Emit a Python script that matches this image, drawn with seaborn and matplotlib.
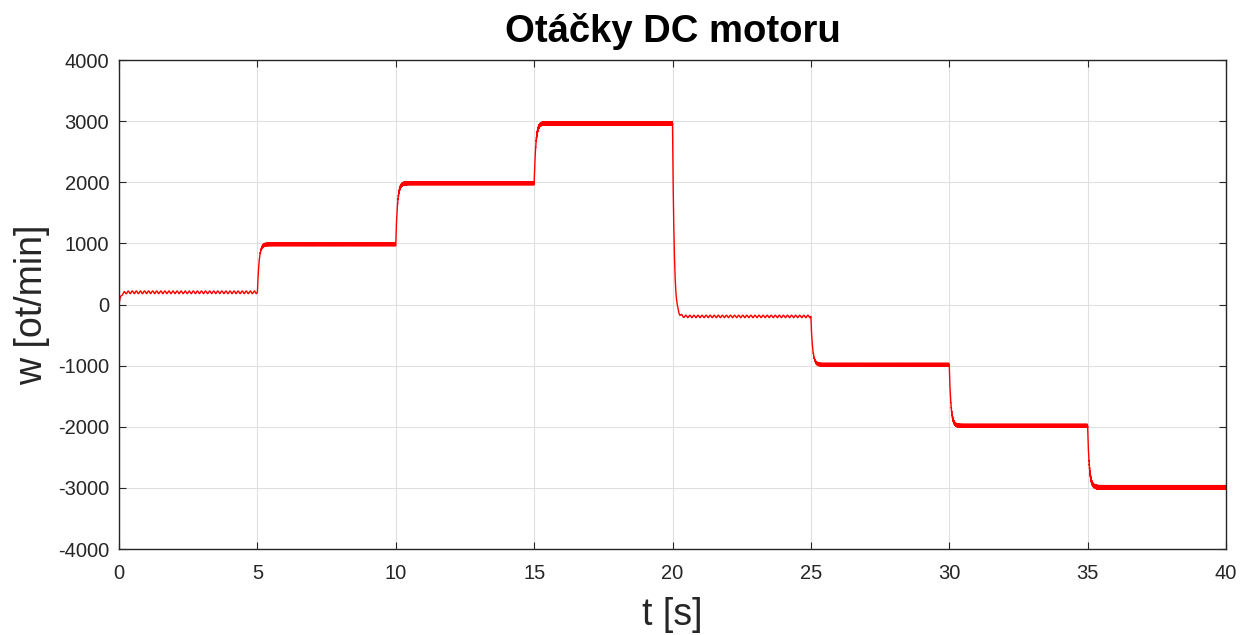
import numpy as np
import pandas as pd
import matplotlib
matplotlib.use("Agg")
import matplotlib.pyplot as plt
import seaborn as sns

# Step setpoints (start time [s]) and steady levels [ot/min]
step_times = [0, 5, 10, 15, 20, 25, 30, 35]
step_levels = [200, 985, 1985, 2965, -195, -985, -1985, -2990]
ripple_amp = [22, 25, 25, 25, 20, 25, 25, 28]
ripple_freq = [6.8, 34, 68, 100, 6.8, 34, 68, 100]
tau = 0.06
t_end = 40.0

x_ticks = [0, 5, 10, 15, 20, 25, 30, 35, 40]
y_ticks = [-4000, -3000, -2000, -1000, 0, 1000, 2000, 3000, 4000]

# build simulated response trace from the step table
fs = 2500
t = np.arange(0, t_end, 1.0 / fs)
w = np.zeros_like(t)
prev = 0.0
for i, (ts, lv) in enumerate(zip(step_times, step_levels)):
    te = step_times[i + 1] if i + 1 < len(step_times) else t_end
    m = (t >= ts) & (t < te)
    dt = t[m] - ts
    base = lv + (prev - lv) * np.exp(-dt / tau)
    settle = 1 - np.exp(-dt / tau)
    w[m] = base + settle * ripple_amp[i] * np.sin(2 * np.pi * ripple_freq[i] * dt)
    prev = w[m][-1]

df = pd.DataFrame({"t": t, "w": w})

sns.set_theme(style="white")
plt.rcParams["font.family"] = ["Liberation Sans", "DejaVu Sans"]

fig = plt.figure(figsize=(12.4, 6.35), dpi=100)
ax = fig.add_axes([0.096, 0.1354, 0.8927, 0.7701])
sns.lineplot(data=df, x="t", y="w", ax=ax, color="#ff0000", linewidth=1.0,
             estimator=None, sort=False)

ax.set_xlim(0, 40)
ax.set_ylim(-4000, 4000)
ax.set_xticks(x_ticks)
ax.set_yticks(y_ticks)
ax.set_xticklabels([str(v) for v in x_ticks])
ax.set_yticklabels([str(v) for v in y_ticks])
ax.grid(True, color="#e0e0e0", linewidth=0.8)
ax.set_axisbelow(True)
for s in ax.spines.values():
    s.set_visible(True)
    s.set_color("#262626")
    s.set_linewidth(1.0)
ax.tick_params(direction="in", length=5, width=0.8, color="#262626",
               labelsize=14.5, labelcolor="#262626",
               top=True, right=True, bottom=True, left=True)
ax.tick_params(axis="y", pad=7)
ax.tick_params(axis="x", pad=11)
ax.set_xlabel("t [s]", fontsize=27, color="#262626", labelpad=10)
ax.set_ylabel("w [ot/min]", fontsize=27, color="#262626", labelpad=6)
ax.set_title("Otáčky DC motoru", fontsize=27.5, fontweight="bold", color="black", pad=13)

fig.savefig("out.png", dpi=100)
